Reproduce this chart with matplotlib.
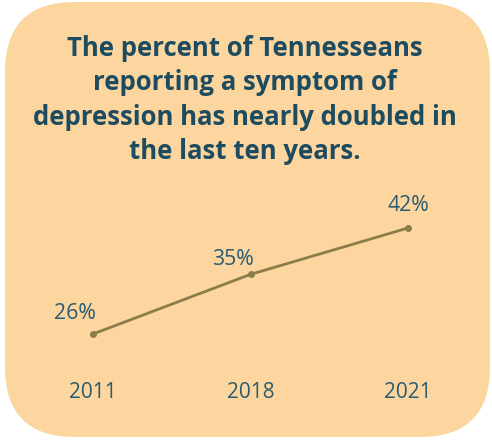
import matplotlib.pyplot as plt
from matplotlib.patches import FancyBboxPatch

# Data
years = ['2011', '2018', '2021']
percent = [26, 35, 42]
labels = ['26%', '35%', '42%']
title = ('The percent of Tennesseans\nreporting a symptom of\n'
         'depression has nearly doubled in\nthe last ten years.')

BOX = '#FCD69E'
TITLE_C = '#1D4B5F'
TEXT_C = '#2A5B70'
LINE_C = '#8B7D4A'

plt.rcParams['font.family'] = ['Open Sans', 'DejaVu Sans']

fig = plt.figure(figsize=(4.92, 4.42), dpi=100)
fig.patch.set_facecolor('white')

# background rounded box, in pixel coords
bg = fig.add_axes([0, 0, 1, 1])
bg.set_xlim(0, 492)
bg.set_ylim(442, 0)
bg.axis('off')
bg.add_patch(FancyBboxPatch((5, 2), 485, 435,
                            boxstyle='round,pad=0,rounding_size=70',
                            facecolor=BOX, edgecolor='none'))

fig.text(245 / 492, 1 - 100 / 442, title, ha='center', va='center',
         fontsize=18.5, fontweight='bold', color=TITLE_C, linespacing=1.36,
         multialignment='center')

ax = fig.add_axes([0.02896, 0.1584, 0.9604, 0.4344])
ax.patch.set_alpha(0)
x = list(range(len(years)))
ax.plot(x, percent, color=LINE_C, linewidth=2, marker='o', markersize=4)
ax.set_xlim(-0.5, 2.5)
ax.set_ylim(20.26, 49.25)

offsets = [(-18, 20), (-18, 15), (0, 23)]
for xi, v, lab, off in zip(x, percent, labels, offsets):
    ax.annotate(lab, (xi, v), xytext=off, textcoords='offset pixels',
                ha='center', va='center', fontsize=15.3, color=TEXT_C)

ax.set_xticks(x)
ax.set_xticklabels(years, fontsize=15, color=TEXT_C)
ax.tick_params(axis='x', length=0, pad=7.5)
ax.set_yticks([])
for s in ax.spines.values():
    s.set_visible(False)

fig.savefig('out.png', dpi=100)
